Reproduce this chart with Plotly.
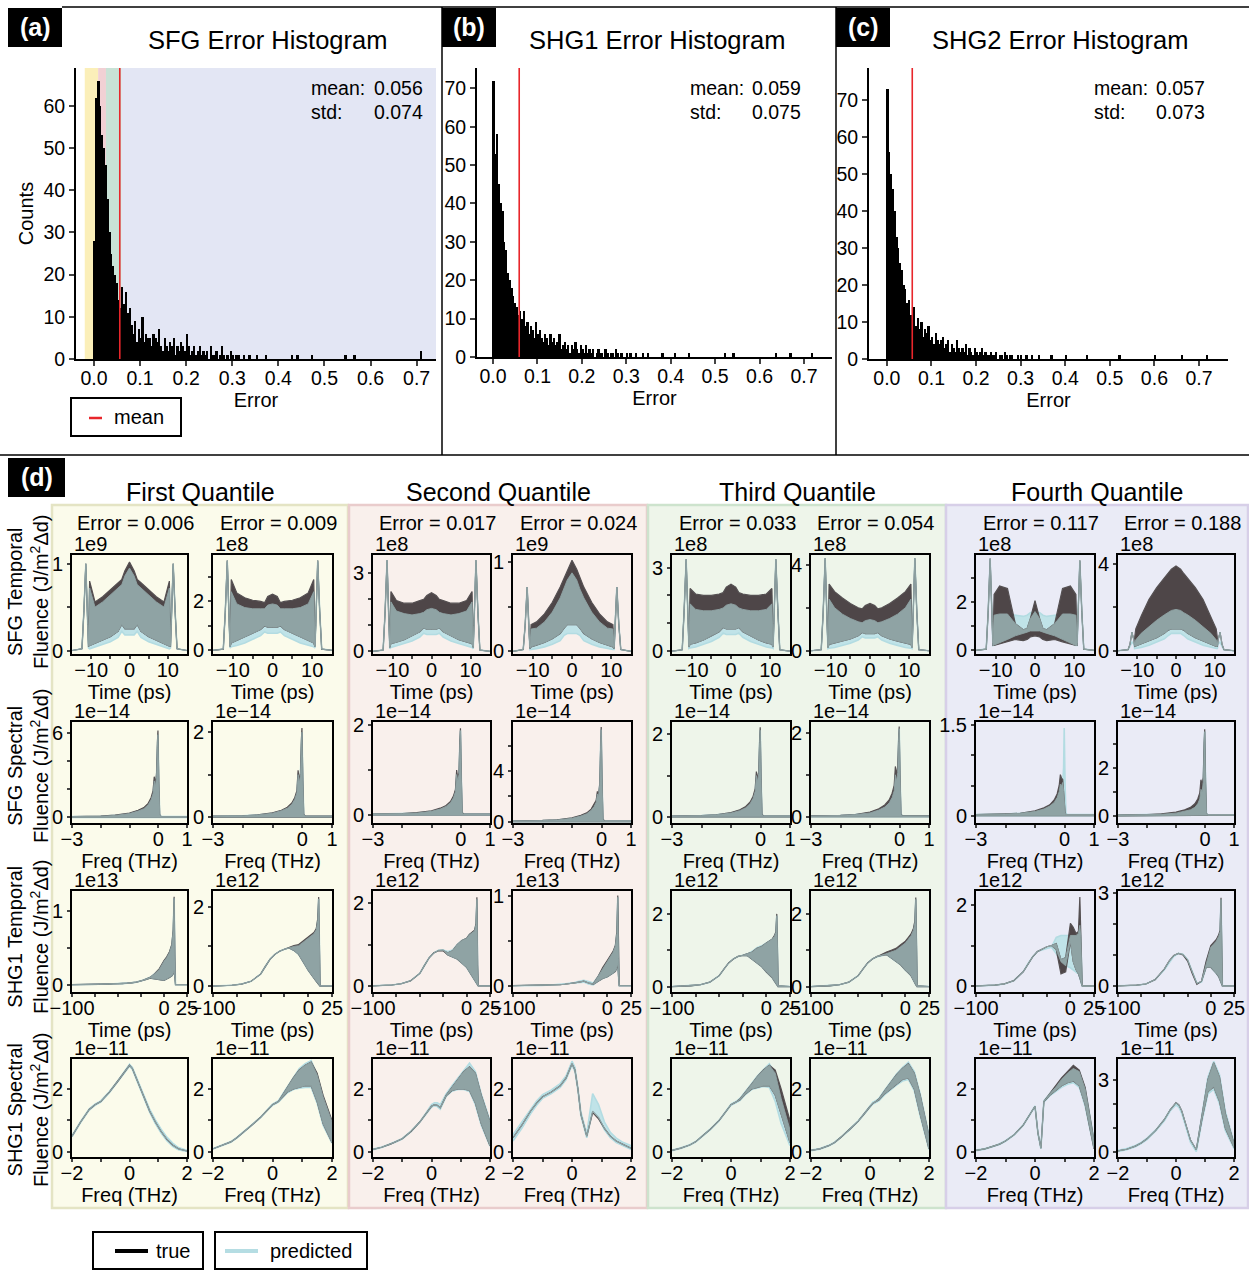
import plotly.graph_objects as go

W, H = 1249, 1271
FONT = "Liberation Sans, Arial, Helvetica, sans-serif"

# ---------------- histogram data (bin width 0.004, starting at 0) ----------------
BIN_WIDTH = 0.004
SFG_COUNTS = [
    28, 62, 66, 60, 53, 50, 46, 38, 30, 25, 22, 20, 18, 14, 12, 17, 13, 16, 11, 12, 8, 6, 9, 4, 7, 5, 10, 4, 6, 5,
    5, 3, 6, 5, 4, 7, 3, 2, 5, 3, 2, 4, 3, 5, 1, 3, 2, 4, 3, 2, 6, 3, 1, 2, 3, 1, 2, 3, 1, 2,
    1, 2, 0, 3, 1, 1, 2, 0, 1, 3, 1, 0, 1, 0, 2, 1, 0, 1, 1, 0, 0, 1, 0, 0, 1, 0, 0, 0, 1, 0,
    0, 0, 0, 1, 0, 0, 0, 0, 0, 0, 0, 0, 0, 0, 0, 0, 0, 1, 0, 0, 1, 0, 0, 0, 0, 0, 0, 0, 1, 0,
    0, 0, 0, 0, 0, 0, 0, 0, 0, 0, 0, 0, 0, 0, 0, 0, 1, 0, 0, 0, 0, 1, 0, 0, 0, 0, 0, 0, 0, 0,
    0, 0, 0, 0, 0, 0, 0, 0, 0, 0, 0, 0, 0, 0, 0, 0, 0, 0, 0, 0, 0, 0, 0, 0, 0, 0, 0, 2, 0, 0,
]
SHG1_COUNTS = [
    72, 53, 58, 45, 40, 38, 30, 28, 22, 20, 18, 16, 14, 13, 11, 12, 10, 12, 8, 9, 6, 8, 7, 5, 9, 6, 7, 5, 4, 6,
    5, 3, 6, 4, 5, 3, 4, 6, 2, 3, 4, 2, 3, 1, 3, 2, 4, 2, 1, 3, 2, 1, 3, 1, 2, 1, 2, 0, 1, 2,
    1, 1, 0, 2, 1, 0, 1, 1, 0, 2, 1, 0, 1, 0, 0, 1, 0, 1, 0, 0, 1, 0, 0, 0, 1, 0, 0, 1, 0, 0,
    0, 0, 0, 0, 0, 1, 0, 0, 0, 0, 0, 0, 1, 0, 0, 0, 0, 0, 0, 0, 1, 0, 0, 0, 0, 0, 0, 0, 0, 0,
    0, 0, 0, 0, 0, 0, 0, 0, 0, 0, 1, 0, 0, 0, 0, 1, 0, 0, 0, 0, 0, 0, 0, 0, 0, 0, 0, 0, 0, 0,
    0, 0, 0, 0, 0, 0, 0, 0, 0, 1, 0, 0, 0, 0, 0, 0, 0, 1, 0, 0, 0, 0, 0, 0, 0, 0, 0, 0, 0, 1,
]
SHG2_COUNTS = [
    73, 56, 50, 46, 40, 33, 30, 26, 24, 20, 19, 15, 16, 12, 10, 14, 9, 11, 8, 10, 6, 8, 7, 9, 5, 6, 4, 7, 5, 4,
    5, 6, 3, 4, 5, 2, 4, 3, 2, 5, 3, 2, 3, 2, 4, 1, 3, 2, 1, 3, 2, 1, 2, 3, 1, 2, 1, 1, 2, 1,
    1, 2, 0, 1, 1, 0, 2, 1, 0, 1, 1, 0, 0, 1, 0, 1, 0, 0, 1, 0, 0, 1, 0, 0, 0, 1, 0, 0, 0, 0,
    0, 0, 1, 0, 0, 0, 0, 0, 0, 0, 1, 0, 0, 0, 0, 0, 0, 0, 0, 0, 0, 0, 1, 0, 0, 0, 0, 0, 0, 0,
    0, 0, 0, 0, 0, 0, 0, 0, 0, 0, 1, 0, 0, 0, 0, 0, 0, 0, 0, 0, 0, 0, 0, 0, 0, 0, 0, 0, 0, 0,
    1, 0, 0, 0, 0, 0, 0, 0, 0, 0, 0, 0, 0, 0, 0, 1, 0, 0, 0, 0, 0, 0, 0, 0, 0, 0, 0, 0, 0, 1,
]
HIST_TITLES = ["SFG Error Histogram", "SHG1 Error Histogram", "SHG2 Error Histogram"]
HIST_MEANS = [0.056, 0.059, 0.057]
HIST_STDS = [0.074, 0.075, 0.073]
SFG_QUANTILE_EDGES = [-0.02, 0.009, 0.026, 0.060, 0.742]

# ---------------- panel (d) data ----------------
QUANTILE_NAMES = ["First Quantile", "Second Quantile", "Third Quantile", "Fourth Quantile"]
SAMPLE_ERRORS = ["0.006", "0.009", "0.017", "0.024", "0.033", "0.054", "0.117", "0.188"]
ROW_LABELS = ["SFG Temporal", "SFG Spectral", "SHG1 Temporal", "SHG1 Spectral"]
ROW_XTITLES = ["Time (ps)", "Freq (THz)", "Time (ps)", "Freq (THz)"]
ROW_XRANGES = [[-15, 15], [-3, 1], [-100, 25], [-2, 2]]
ROW_XTICKS = [[-10, -5, 0, 5, 10], [-3, -2, -1, 0, 1], [-100, -75, -50, -25, 0, 25], [-2, -1, 0, 1, 2]]
ROW_XTICKTEXT = [["\u221210", " ", "0", " ", "10"], ["\u22123", " ", " ", "0", "1"],
                 ["\u2212100", " ", " ", " ", "0", "25"], ["\u22122", " ", "0", " ", "2"]]
ROW_EXPONENTS = [
    ["1e9", "1e8", "1e8", "1e9", "1e8", "1e8", "1e8", "1e8"],
    ["1e\u221214"] * 8,
    ["1e13", "1e12", "1e12", "1e13", "1e12", "1e12", "1e12", "1e12"],
    ["1e\u221211"] * 8,
]
ROW_YRANGES = [
    [[-0.04, 1.1], [-0.15, 3.9], [-0.1, 3.7], [-0.03, 1.08], [-0.1, 3.45], [-0.15, 4.45], [-0.15, 3.93], [-0.15, 4.4]],
    [[-0.4, 6.8], [-0.14, 2.24], [-0.18, 2.07], [-0.1, 7.9], [-0.15, 2.3], [-0.15, 2.26], [-0.12, 1.55], [-0.3, 3.9]],
    [[-0.1, 1.28], [-0.15, 2.4], [-0.15, 2.3], [-0.07, 1.05], [-0.15, 2.63], [-0.15, 2.63], [-0.15, 2.35], [-0.2, 3.07]],
    [[-0.16, 2.95], [-0.16, 2.95], [-0.16, 2.95], [-0.16, 2.95], [-0.16, 2.95], [-0.16, 2.95], [-0.16, 2.95], [-0.2, 3.85]],
]
ROW_YTICKS = [
    [[0, 0.5, 1], [0, 1, 2, 3], [0, 1, 2, 3], [0, 0.5, 1], [0, 1, 2, 3], [0, 2, 4], [0, 1, 2, 3], [0, 2, 4]],
    [[0, 2, 4, 6], [0, 1, 2], [0, 1, 2], [0, 2, 4, 6], [0, 1, 2], [0, 1, 2], [0, 0.5, 1, 1.5], [0, 1, 2, 3]],
    [[0, 0.5, 1], [0, 1, 2], [0, 1, 2], [0, 0.5, 1], [0, 1, 2], [0, 1, 2], [0, 1, 2], [0, 1, 2, 3]],
    [[0, 1, 2], [0, 1, 2], [0, 1, 2], [0, 1, 2], [0, 1, 2], [0, 1, 2], [0, 1, 2], [0, 1, 2, 3]],
]
ROW_YTICKTEXT = [
    [["0", " ", "1"], ["0", " ", "2", " "], ["0", " ", " ", "3"], ["0", " ", "1"], ["0", " ", " ", "3"], ["0", " ", "4"], ["0", " ", "2", " "], ["0", " ", "4"]],
    [["0", " ", " ", "6"], ["0", " ", "2"], ["0", " ", "2"], ["0", " ", "4", " "], ["0", " ", "2"], ["0", " ", "2"], ["0", " ", " ", "1.5"], ["0", " ", "2", " "]],
    [["0", " ", "1"], ["0", " ", "2"], ["0", " ", "2"], ["0", " ", "1"], ["0", " ", "2"], ["0", " ", "2"], ["0", " ", "2"], ["0", " ", " ", "3"]],
    [["0", " ", "2"], ["0", " ", "2"], ["0", " ", "2"], ["0", " ", "2"], ["0", " ", "2"], ["0", " ", "2"], ["0", " ", "2"], ["0", " ", " ", "3"]],
]

# Row 1: SFG temporal fluence (envelopes of the oscillating traces)
R1_X = [-15, -12.4, -11.9, -11.4, -10.9, -10.7, -10.4, -9, -7, -5, -3, -2, -1.2, 0, 1.2, 2, 3, 5, 7, 9, 10.4, 10.7, 10.9, 11.4, 11.9, 12.4, 15]
R1_TRUE_HI = [
    [0, 0.02, 0.45, 1.0, 0.3, 0.08, 0.8, 0.56, 0.62, 0.7, 0.78, 0.82, 0.92, 1.02, 0.92, 0.82, 0.78, 0.7, 0.62, 0.56, 0.8, 0.08, 0.3, 1.0, 0.45, 0.02, 0],
    [0, 0.05, 1.6, 3.67, 1.0, 0.2, 2.9, 2.35, 2.15, 2.05, 2.0, 1.95, 2.2, 2.3, 2.2, 1.95, 2.0, 2.05, 2.15, 2.35, 2.9, 0.2, 1.0, 3.67, 1.6, 0.05, 0],
    [0, 0.05, 1.5, 3.5, 1.0, 0.2, 2.3, 1.95, 1.85, 1.85, 1.95, 2.0, 2.15, 2.25, 2.15, 2.0, 1.95, 1.85, 1.85, 1.95, 2.3, 0.2, 1.0, 3.5, 1.5, 0.05, 0],
    [0, 0.02, 0.3, 0.72, 0.2, 0.05, 0.3, 0.33, 0.42, 0.55, 0.72, 0.82, 0.92, 1.02, 0.92, 0.82, 0.72, 0.55, 0.42, 0.33, 0.3, 0.05, 0.2, 0.72, 0.3, 0.02, 0],
    [0, 0.05, 1.5, 3.3, 1.0, 0.2, 2.25, 2.05, 2.0, 2.0, 2.05, 2.1, 2.3, 2.4, 2.3, 2.1, 2.05, 2.0, 2.0, 2.05, 2.25, 0.2, 1.0, 3.3, 1.5, 0.05, 0],
    [0, 0.05, 1.8, 4.3, 1.2, 0.2, 3.1, 2.75, 2.45, 2.2, 2.0, 1.95, 2.1, 2.2, 2.1, 1.95, 2.0, 2.2, 2.45, 2.75, 3.1, 0.2, 1.2, 4.3, 1.8, 0.05, 0],
    [0, 0.05, 1.6, 3.78, 1.2, 0.3, 2.3, 2.65, 2.55, 1.1, 0.85, 0.9, 1.3, 2.05, 1.3, 0.9, 0.85, 1.1, 2.55, 2.65, 2.3, 0.3, 1.2, 3.7, 1.6, 0.05, 0],
    [0, 0.05, 0.3, 0.85, 0.5, 0.6, 1.0, 1.6, 2.35, 2.9, 3.35, 3.55, 3.75, 3.9, 3.75, 3.55, 3.35, 2.9, 2.35, 1.6, 1.0, 0.6, 0.5, 0.85, 0.3, 0.05, 0],
]
R1_TRUE_LO = [
    [0, 0.02, 0.45, 1.0, 0.3, 0.05, 0.05, 0.08, 0.12, 0.16, 0.22, 0.3, 0.25, 0.25, 0.25, 0.3, 0.22, 0.16, 0.12, 0.08, 0.05, 0.05, 0.3, 1.0, 0.45, 0.02, 0],
    [0, 0.05, 1.6, 3.67, 1.0, 0.15, 0.3, 0.4, 0.55, 0.7, 0.85, 1.0, 0.95, 0.95, 0.95, 1.0, 0.85, 0.7, 0.55, 0.4, 0.3, 0.15, 1.0, 3.67, 1.6, 0.05, 0],
    [0, 0.05, 1.5, 3.5, 1.0, 0.15, 0.3, 0.35, 0.45, 0.6, 0.75, 0.9, 0.85, 0.85, 0.85, 0.9, 0.75, 0.6, 0.45, 0.35, 0.3, 0.15, 1.0, 3.5, 1.5, 0.05, 0],
    [0, 0.02, 0.3, 0.72, 0.2, 0.03, 0.05, 0.07, 0.1, 0.14, 0.2, 0.26, 0.3, 0.3, 0.3, 0.26, 0.2, 0.14, 0.1, 0.07, 0.05, 0.03, 0.2, 0.72, 0.3, 0.02, 0],
    [0, 0.05, 1.5, 3.3, 1.0, 0.15, 0.25, 0.3, 0.4, 0.55, 0.7, 0.85, 0.8, 0.8, 0.8, 0.85, 0.7, 0.55, 0.4, 0.3, 0.25, 0.15, 1.0, 3.3, 1.5, 0.05, 0],
    [0, 0.05, 1.8, 4.3, 1.2, 0.15, 0.3, 0.35, 0.45, 0.55, 0.7, 0.85, 0.8, 0.8, 0.8, 0.85, 0.7, 0.55, 0.45, 0.35, 0.3, 0.15, 1.2, 4.3, 1.8, 0.05, 0],
    [0, 0.05, 1.6, 3.78, 1.2, 0.2, 0.2, 0.25, 0.35, 0.45, 0.4, 0.45, 0.55, 0.6, 0.55, 0.45, 0.4, 0.45, 0.35, 0.25, 0.2, 0.2, 1.2, 3.7, 1.6, 0.05, 0],
    [0, 0.05, 0.3, 0.85, 0.5, 0.2, 0.2, 0.3, 0.45, 0.6, 0.8, 0.95, 1.0, 1.0, 1.0, 0.95, 0.8, 0.6, 0.45, 0.3, 0.2, 0.2, 0.5, 0.85, 0.3, 0.05, 0],
]
R1_PRED_HI = [
    [0, 0.02, 0.45, 0.98, 0.3, 0.08, 0.72, 0.5, 0.56, 0.64, 0.72, 0.76, 0.86, 0.95, 0.86, 0.76, 0.72, 0.64, 0.56, 0.5, 0.72, 0.08, 0.3, 0.98, 0.45, 0.02, 0],
    [0, 0.05, 1.6, 3.6, 1.0, 0.2, 2.4, 1.9, 1.75, 1.7, 1.7, 1.7, 1.85, 1.9, 1.85, 1.7, 1.7, 1.7, 1.75, 1.9, 2.4, 0.2, 1.0, 3.6, 1.6, 0.05, 0],
    [0, 0.05, 1.5, 3.45, 1.0, 0.2, 1.9, 1.55, 1.45, 1.4, 1.45, 1.5, 1.6, 1.65, 1.6, 1.5, 1.45, 1.4, 1.45, 1.55, 1.9, 0.2, 1.0, 3.45, 1.5, 0.05, 0],
    [0, 0.02, 0.3, 0.72, 0.2, 0.05, 0.25, 0.26, 0.33, 0.44, 0.6, 0.7, 0.8, 0.88, 0.8, 0.7, 0.6, 0.44, 0.33, 0.26, 0.25, 0.05, 0.2, 0.72, 0.3, 0.02, 0],
    [0, 0.05, 1.5, 3.25, 1.0, 0.2, 1.7, 1.5, 1.45, 1.45, 1.5, 1.55, 1.65, 1.7, 1.65, 1.55, 1.5, 1.45, 1.45, 1.5, 1.7, 0.2, 1.0, 3.25, 1.5, 0.05, 0],
    [0, 0.05, 1.8, 4.25, 1.2, 0.2, 2.4, 2.0, 1.7, 1.5, 1.35, 1.3, 1.4, 1.45, 1.4, 1.3, 1.35, 1.5, 1.7, 2.0, 2.4, 0.2, 1.2, 4.25, 1.8, 0.05, 0],
    [0, 0.05, 1.6, 3.7, 1.2, 0.3, 1.45, 1.5, 1.5, 1.45, 1.4, 1.45, 1.55, 1.6, 1.55, 1.45, 1.4, 1.45, 1.5, 1.5, 1.45, 0.3, 1.2, 3.65, 1.6, 0.05, 0],
    [0, 0.05, 0.2, 0.4, 0.3, 0.3, 0.5, 0.8, 1.1, 1.4, 1.65, 1.75, 1.85, 1.9, 1.85, 1.75, 1.65, 1.4, 1.1, 0.8, 0.5, 0.3, 0.3, 0.4, 0.2, 0.05, 0],
]
R1_PRED_LO = [
    [0, 0.02, 0.45, 0.98, 0.3, 0.03, 0.02, 0.04, 0.07, 0.1, 0.15, 0.22, 0.18, 0.18, 0.18, 0.22, 0.15, 0.1, 0.07, 0.04, 0.02, 0.03, 0.3, 0.98, 0.45, 0.02, 0],
    [0, 0.05, 1.6, 3.6, 1.0, 0.1, 0.15, 0.2, 0.3, 0.45, 0.6, 0.75, 0.7, 0.7, 0.7, 0.75, 0.6, 0.45, 0.3, 0.2, 0.15, 0.1, 1.0, 3.6, 1.6, 0.05, 0],
    [0, 0.05, 1.5, 3.45, 1.0, 0.1, 0.15, 0.2, 0.3, 0.4, 0.55, 0.7, 0.65, 0.65, 0.65, 0.7, 0.55, 0.4, 0.3, 0.2, 0.15, 0.1, 1.0, 3.45, 1.5, 0.05, 0],
    [0, 0.02, 0.3, 0.72, 0.2, 0.02, 0.02, 0.03, 0.05, 0.08, 0.12, 0.18, 0.2, 0.2, 0.2, 0.18, 0.12, 0.08, 0.05, 0.03, 0.02, 0.02, 0.2, 0.72, 0.3, 0.02, 0],
    [0, 0.05, 1.5, 3.25, 1.0, 0.1, 0.12, 0.15, 0.25, 0.35, 0.5, 0.65, 0.6, 0.6, 0.6, 0.65, 0.5, 0.35, 0.25, 0.15, 0.12, 0.1, 1.0, 3.25, 1.5, 0.05, 0],
    [0, 0.05, 1.8, 4.25, 1.2, 0.1, 0.12, 0.15, 0.25, 0.35, 0.5, 0.65, 0.6, 0.6, 0.6, 0.65, 0.5, 0.35, 0.25, 0.15, 0.12, 0.1, 1.2, 4.25, 1.8, 0.05, 0],
    [0, 0.05, 1.6, 3.7, 1.2, 0.2, 0.2, 0.3, 0.45, 0.6, 0.7, 0.75, 0.8, 0.8, 0.8, 0.75, 0.7, 0.6, 0.45, 0.3, 0.2, 0.2, 1.2, 3.65, 1.6, 0.05, 0],
    [0, 0.05, 0.2, 0.4, 0.3, 0.1, 0.1, 0.15, 0.25, 0.4, 0.55, 0.7, 0.8, 0.8, 0.8, 0.7, 0.55, 0.4, 0.25, 0.15, 0.1, 0.1, 0.3, 0.4, 0.2, 0.05, 0],
]

# Row 2: SFG spectral fluence (filled down to zero)
R2_X = [-3, -2.5, -2, -1.5, -1.0, -0.7, -0.5, -0.35, -0.25, -0.18, -0.14, -0.1, -0.06, -0.03, -0.01, 0.02, 0.05, 0.1, 1]
R2_TRUE = [
    [0.06, 0.06, 0.09, 0.16, 0.3, 0.5, 0.7, 1.0, 1.4, 1.9, 2.9, 2.4, 3.1, 5.3, 6.2, 2.5, 0.2, 0.06, 0.06],
    [0.02, 0.02, 0.03, 0.05, 0.1, 0.16, 0.23, 0.33, 0.46, 0.62, 1.1, 0.85, 1.05, 1.8, 2.1, 0.85, 0.06, 0.02, 0.02],
    [0.02, 0.02, 0.03, 0.05, 0.09, 0.15, 0.21, 0.3, 0.42, 0.57, 1.0, 0.8, 0.95, 1.65, 1.93, 0.8, 0.05, 0.02, 0.02],
    [0.06, 0.06, 0.1, 0.15, 0.3, 0.5, 0.7, 1.0, 1.35, 1.7, 2.4, 2.1, 3.0, 6.2, 7.5, 3.0, 0.2, 0.06, 0.06],
    [0.02, 0.02, 0.03, 0.05, 0.1, 0.17, 0.25, 0.36, 0.5, 0.68, 1.1, 0.9, 1.1, 1.85, 2.17, 0.9, 0.06, 0.02, 0.02],
    [0.02, 0.02, 0.03, 0.05, 0.11, 0.19, 0.28, 0.4, 0.56, 0.75, 1.2, 1.0, 1.2, 1.85, 2.15, 0.9, 0.06, 0.02, 0.02],
    [0.02, 0.02, 0.03, 0.04, 0.08, 0.13, 0.18, 0.26, 0.36, 0.5, 0.68, 0.62, 0.6, 0.4, 0.2, 0.05, 0.02, 0.02, 0.02],
    [0.03, 0.03, 0.05, 0.08, 0.15, 0.25, 0.35, 0.5, 0.7, 0.95, 1.5, 1.3, 1.6, 3.0, 3.6, 1.4, 0.1, 0.03, 0.03],
]
R2_PRED = [
    [0.06, 0.06, 0.08, 0.14, 0.27, 0.45, 0.62, 0.9, 1.25, 1.7, 2.6, 2.2, 2.9, 5.0, 5.9, 2.5, 0.2, 0.06, 0.06],
    [0.02, 0.02, 0.03, 0.05, 0.09, 0.15, 0.21, 0.3, 0.42, 0.57, 1.0, 0.8, 1.0, 1.7, 2.0, 0.85, 0.06, 0.02, 0.02],
    [0.02, 0.02, 0.03, 0.04, 0.08, 0.13, 0.19, 0.27, 0.38, 0.52, 0.9, 0.75, 0.9, 1.6, 1.88, 0.8, 0.05, 0.02, 0.02],
    [0.06, 0.06, 0.09, 0.14, 0.27, 0.45, 0.63, 0.9, 1.2, 1.55, 2.2, 2.0, 2.9, 6.0, 7.3, 3.0, 0.2, 0.06, 0.06],
    [0.02, 0.02, 0.03, 0.05, 0.09, 0.15, 0.22, 0.32, 0.45, 0.62, 1.0, 0.85, 1.05, 1.8, 2.1, 0.9, 0.06, 0.02, 0.02],
    [0.02, 0.02, 0.03, 0.05, 0.09, 0.16, 0.23, 0.33, 0.46, 0.62, 1.0, 0.85, 1.05, 1.8, 2.1, 0.9, 0.06, 0.02, 0.02],
    [0.02, 0.02, 0.03, 0.04, 0.07, 0.11, 0.16, 0.22, 0.3, 0.4, 0.52, 0.5, 0.55, 0.8, 1.45, 0.5, 0.04, 0.02, 0.02],
    [0.03, 0.03, 0.04, 0.06, 0.11, 0.18, 0.25, 0.35, 0.5, 0.7, 1.1, 1.0, 1.4, 2.9, 3.5, 1.4, 0.1, 0.03, 0.03],
]

# Row 3: SHG1 temporal fluence
R3_X = [-100, -80, -70, -60, -50, -45, -40, -35, -30, -25, -20, -15, -10, -5, 0, 3, 6, 8.5, 10, 11, 11.8, 12.5, 25]
R3_TRUE_HI = [
    [0, 0.003, 0.005, 0.008, 0.012, 0.015, 0.02, 0.025, 0.035, 0.05, 0.07, 0.1, 0.15, 0.22, 0.33, 0.38, 0.45, 0.55, 0.75, 1.2, 0.4, 0, 0],
    [0, 0.02, 0.05, 0.12, 0.3, 0.5, 0.68, 0.8, 0.88, 0.93, 0.98, 1.02, 1.05, 1.15, 1.25, 1.3, 1.35, 1.45, 1.7, 2.25, 0.5, 0, 0],
    [0, 0.02, 0.05, 0.12, 0.3, 0.5, 0.68, 0.8, 0.85, 0.85, 0.8, 0.85, 1.0, 1.1, 1.15, 1.25, 1.3, 1.35, 1.5, 2.15, 0.5, 0, 0],
    [0, 0.002, 0.004, 0.008, 0.012, 0.016, 0.02, 0.03, 0.04, 0.05, 0.03, 0.02, 0.1, 0.2, 0.28, 0.33, 0.38, 0.45, 0.6, 1.0, 0.3, 0, 0],
    [0, 0.02, 0.05, 0.12, 0.3, 0.48, 0.65, 0.76, 0.83, 0.86, 0.9, 0.95, 1.05, 1.1, 1.2, 1.25, 1.3, 1.4, 1.5, 2.0, 0.5, 0, 0],
    [0, 0.02, 0.05, 0.12, 0.3, 0.48, 0.65, 0.76, 0.83, 0.88, 0.95, 1.0, 1.05, 1.15, 1.25, 1.35, 1.45, 1.6, 1.8, 2.45, 0.5, 0, 0],
    [0, 0.02, 0.05, 0.13, 0.35, 0.55, 0.72, 0.85, 0.92, 0.97, 1.0, 1.05, 0.65, 0.7, 1.55, 1.45, 1.3, 1.35, 2.2, 1.4, 0.3, 0, 0],
    [0, 0.02, 0.06, 0.2, 0.55, 0.8, 0.98, 1.05, 1.0, 0.8, 0.4, 0.05, 0.15, 0.8, 1.3, 1.4, 1.5, 1.65, 1.8, 2.85, 0.5, 0, 0],
]
R3_TRUE_LO = [
    [0, 0.003, 0.005, 0.008, 0.012, 0.015, 0.02, 0.025, 0.035, 0.05, 0.07, 0.09, 0.08, 0.07, 0.06, 0.08, 0.1, 0.12, 0.15, 0.2, 0.1, 0, 0],
    [0, 0.02, 0.05, 0.12, 0.3, 0.5, 0.68, 0.8, 0.88, 0.93, 0.96, 0.9, 0.8, 0.6, 0.4, 0.3, 0.2, 0.12, 0.08, 0.05, 0.02, 0, 0],
    [0, 0.02, 0.05, 0.12, 0.3, 0.5, 0.68, 0.8, 0.85, 0.85, 0.75, 0.7, 0.65, 0.55, 0.45, 0.35, 0.25, 0.15, 0.08, 0.05, 0.02, 0, 0],
    [0, 0.002, 0.004, 0.008, 0.012, 0.016, 0.02, 0.03, 0.04, 0.05, 0.03, 0.015, 0.05, 0.08, 0.1, 0.12, 0.14, 0.16, 0.2, 0.25, 0.1, 0, 0],
    [0, 0.02, 0.05, 0.12, 0.3, 0.48, 0.65, 0.76, 0.83, 0.86, 0.85, 0.75, 0.65, 0.55, 0.4, 0.32, 0.25, 0.15, 0.08, 0.05, 0.02, 0, 0],
    [0, 0.02, 0.05, 0.12, 0.3, 0.48, 0.65, 0.76, 0.83, 0.86, 0.88, 0.8, 0.7, 0.6, 0.45, 0.38, 0.3, 0.2, 0.1, 0.05, 0.02, 0, 0],
    [0, 0.02, 0.05, 0.13, 0.35, 0.55, 0.72, 0.85, 0.92, 0.97, 1.0, 0.9, 0.3, 0.35, 1.1, 0.6, 0.4, 0.3, 0.2, 0.15, 0.05, 0, 0],
    [0, 0.02, 0.06, 0.2, 0.55, 0.8, 0.98, 1.05, 1.0, 0.8, 0.4, 0.05, 0.15, 0.6, 0.6, 0.5, 0.4, 0.3, 0.2, 0.1, 0.05, 0, 0],
]
R3_PRED_HI = [
    [0, 0.003, 0.005, 0.008, 0.012, 0.015, 0.02, 0.025, 0.035, 0.05, 0.07, 0.1, 0.15, 0.21, 0.32, 0.37, 0.44, 0.54, 0.74, 1.18, 0.4, 0, 0],
    [0, 0.02, 0.05, 0.12, 0.3, 0.5, 0.68, 0.8, 0.88, 0.93, 0.97, 1.0, 1.02, 1.12, 1.22, 1.27, 1.32, 1.42, 1.65, 2.2, 0.5, 0, 0],
    [0, 0.02, 0.05, 0.12, 0.3, 0.5, 0.68, 0.8, 0.86, 0.87, 0.83, 0.87, 1.0, 1.1, 1.15, 1.24, 1.28, 1.33, 1.48, 2.1, 0.5, 0, 0],
    [0, 0.002, 0.004, 0.008, 0.014, 0.02, 0.026, 0.035, 0.05, 0.06, 0.045, 0.03, 0.1, 0.19, 0.27, 0.32, 0.37, 0.44, 0.58, 0.98, 0.3, 0, 0],
    [0, 0.02, 0.05, 0.12, 0.3, 0.48, 0.65, 0.76, 0.83, 0.86, 0.9, 0.97, 1.07, 1.12, 1.2, 1.25, 1.3, 1.38, 1.48, 1.95, 0.5, 0, 0],
    [0, 0.02, 0.05, 0.12, 0.3, 0.48, 0.65, 0.76, 0.82, 0.85, 0.9, 0.95, 1.0, 1.1, 1.2, 1.3, 1.4, 1.55, 1.75, 2.4, 0.5, 0, 0],
    [0, 0.02, 0.05, 0.13, 0.35, 0.55, 0.72, 0.85, 0.9, 0.93, 0.96, 1.2, 1.25, 1.25, 1.25, 1.25, 1.25, 1.3, 1.5, 1.2, 0.3, 0, 0],
    [0, 0.02, 0.06, 0.2, 0.52, 0.75, 0.95, 1.05, 1.02, 0.85, 0.45, 0.08, 0.12, 0.75, 1.25, 1.35, 1.45, 1.6, 1.75, 2.8, 0.5, 0, 0],
]
R3_PRED_LO = [
    [0, 0.003, 0.005, 0.008, 0.012, 0.015, 0.02, 0.025, 0.035, 0.05, 0.07, 0.09, 0.08, 0.07, 0.06, 0.08, 0.1, 0.12, 0.15, 0.2, 0.1, 0, 0],
    [0, 0.02, 0.05, 0.12, 0.3, 0.5, 0.68, 0.8, 0.88, 0.93, 0.96, 0.9, 0.8, 0.6, 0.4, 0.3, 0.2, 0.12, 0.08, 0.05, 0.02, 0, 0],
    [0, 0.02, 0.05, 0.12, 0.3, 0.5, 0.68, 0.8, 0.86, 0.87, 0.75, 0.7, 0.65, 0.55, 0.45, 0.35, 0.25, 0.15, 0.08, 0.05, 0.02, 0, 0],
    [0, 0.002, 0.004, 0.008, 0.012, 0.016, 0.02, 0.028, 0.035, 0.04, 0.02, 0.01, 0.05, 0.08, 0.1, 0.12, 0.14, 0.16, 0.2, 0.25, 0.1, 0, 0],
    [0, 0.02, 0.05, 0.12, 0.3, 0.48, 0.65, 0.76, 0.83, 0.86, 0.85, 0.75, 0.65, 0.55, 0.4, 0.32, 0.25, 0.15, 0.08, 0.05, 0.02, 0, 0],
    [0, 0.02, 0.05, 0.12, 0.3, 0.48, 0.65, 0.76, 0.82, 0.85, 0.88, 0.8, 0.7, 0.6, 0.45, 0.38, 0.3, 0.2, 0.1, 0.05, 0.02, 0, 0],
    [0, 0.02, 0.05, 0.13, 0.35, 0.55, 0.72, 0.85, 0.9, 0.93, 0.96, 0.8, 0.6, 0.5, 0.45, 0.4, 0.35, 0.3, 0.2, 0.15, 0.05, 0, 0],
    [0, 0.02, 0.06, 0.2, 0.52, 0.75, 0.95, 1.05, 1.02, 0.85, 0.45, 0.08, 0.12, 0.6, 0.6, 0.5, 0.4, 0.3, 0.2, 0.1, 0.05, 0, 0],
]

# Row 4: SHG1 spectral fluence
R4_X = [-2, -1.7, -1.4, -1.2, -1.0, -0.7, -0.4, -0.2, 0, 0.1, 0.2, 0.3, 0.5, 0.7, 0.9, 1.1, 1.3, 1.5, 1.7, 2]
R4_TRUE_HI = [
    [0.5, 0.95, 1.35, 1.5, 1.6, 1.9, 2.25, 2.5, 2.75, 2.65, 2.45, 2.2, 1.75, 1.3, 0.95, 0.65, 0.4, 0.22, 0.1, 0.03],
    [0.1, 0.2, 0.32, 0.45, 0.6, 0.85, 1.1, 1.3, 1.5, 1.55, 1.6, 1.75, 2.05, 2.35, 2.6, 2.75, 2.85, 2.5, 1.8, 1.0],
    [0.08, 0.15, 0.25, 0.33, 0.42, 0.65, 0.95, 1.2, 1.45, 1.5, 1.48, 1.4, 1.8, 2.05, 2.3, 2.55, 2.7, 2.5, 1.8, 0.95],
    [0.45, 0.85, 1.3, 1.55, 1.75, 1.9, 2.1, 2.35, 2.8, 2.6, 2.0, 1.2, 0.5, 1.25, 1.05, 0.75, 0.5, 0.35, 0.25, 0.12],
    [0.05, 0.12, 0.22, 0.32, 0.48, 0.72, 1.0, 1.25, 1.5, 1.55, 1.6, 1.68, 1.9, 2.15, 2.4, 2.6, 2.75, 2.6, 2.0, 1.0],
    [0.05, 0.1, 0.2, 0.3, 0.45, 0.7, 0.98, 1.2, 1.45, 1.55, 1.6, 1.68, 1.95, 2.2, 2.45, 2.65, 2.8, 2.5, 1.8, 0.5],
    [0.05, 0.1, 0.18, 0.25, 0.35, 0.55, 0.85, 1.15, 1.45, 0.6, 0.12, 1.6, 1.85, 2.1, 2.35, 2.55, 2.75, 2.6, 2.05, 0.35],
    [0.05, 0.12, 0.25, 0.38, 0.55, 0.9, 1.35, 1.75, 2.05, 1.95, 1.7, 1.3, 0.5, 0.1, 1.5, 3.0, 3.7, 3.1, 1.6, 0.35],
]
R4_TRUE_LO = [
    [0.5, 0.95, 1.35, 1.5, 1.6, 1.9, 2.25, 2.5, 2.75, 2.65, 2.45, 2.2, 1.75, 1.3, 0.95, 0.65, 0.4, 0.22, 0.1, 0.03],
    [0.1, 0.2, 0.32, 0.45, 0.6, 0.85, 1.1, 1.3, 1.5, 1.55, 1.6, 1.72, 1.9, 2.0, 2.05, 2.1, 2.1, 1.6, 0.9, 0.3],
    [0.08, 0.15, 0.25, 0.33, 0.42, 0.65, 0.95, 1.2, 1.45, 1.5, 1.48, 1.4, 1.78, 1.95, 2.0, 2.0, 1.95, 1.55, 0.9, 0.2],
    [0.45, 0.85, 1.3, 1.55, 1.75, 1.9, 2.1, 2.35, 2.8, 2.6, 2.0, 1.2, 0.5, 1.25, 1.05, 0.75, 0.5, 0.35, 0.25, 0.12],
    [0.05, 0.12, 0.22, 0.32, 0.48, 0.72, 1.0, 1.25, 1.5, 1.55, 1.6, 1.65, 1.85, 2.0, 2.05, 2.1, 2.1, 1.8, 1.2, 0.3],
    [0.05, 0.1, 0.2, 0.3, 0.45, 0.7, 0.98, 1.2, 1.45, 1.55, 1.6, 1.65, 1.85, 2.0, 2.15, 2.3, 2.35, 2.0, 1.2, 0.1],
    [0.05, 0.1, 0.18, 0.25, 0.35, 0.55, 0.85, 1.15, 1.45, 0.6, 0.12, 1.6, 1.8, 1.95, 2.1, 2.2, 2.25, 2.1, 1.5, 0.1],
    [0.05, 0.12, 0.25, 0.38, 0.55, 0.9, 1.35, 1.75, 2.05, 1.95, 1.7, 1.3, 0.5, 0.1, 1.4, 2.5, 2.7, 2.1, 1.0, 0.2],
]
R4_PRED_HI = [
    [0.52, 0.97, 1.37, 1.52, 1.62, 1.92, 2.27, 2.52, 2.78, 2.68, 2.48, 2.24, 1.8, 1.36, 1.02, 0.72, 0.47, 0.28, 0.14, 0.05],
    [0.11, 0.21, 0.33, 0.46, 0.61, 0.86, 1.11, 1.31, 1.52, 1.57, 1.63, 1.78, 2.08, 2.38, 2.65, 2.8, 2.9, 2.45, 1.75, 0.95],
    [0.09, 0.16, 0.26, 0.34, 0.43, 0.66, 0.96, 1.22, 1.5, 1.56, 1.56, 1.5, 1.84, 2.1, 2.35, 2.6, 2.82, 2.55, 1.85, 1.0],
    [0.55, 0.95, 1.38, 1.62, 1.82, 1.97, 2.17, 2.42, 2.88, 2.68, 2.05, 1.28, 0.58, 1.85, 1.5, 0.95, 0.62, 0.44, 0.32, 0.2],
    [0.06, 0.13, 0.23, 0.33, 0.49, 0.73, 1.01, 1.26, 1.52, 1.57, 1.62, 1.7, 1.92, 2.17, 2.42, 2.62, 2.8, 2.5, 1.7, 0.7],
    [0.06, 0.11, 0.21, 0.31, 0.46, 0.71, 0.99, 1.22, 1.48, 1.58, 1.63, 1.7, 1.97, 2.22, 2.47, 2.68, 2.85, 2.55, 1.85, 0.55],
    [0.06, 0.11, 0.19, 0.26, 0.36, 0.56, 0.86, 1.16, 1.46, 0.62, 0.15, 1.62, 1.85, 2.05, 2.3, 2.5, 2.65, 2.55, 2.0, 0.4],
    [0.08, 0.15, 0.28, 0.4, 0.58, 0.92, 1.35, 1.75, 2.0, 1.9, 1.65, 1.25, 0.45, 0.05, 1.6, 3.1, 3.75, 3.2, 1.7, 0.4],
]
R4_PRED_LO = [
    [0.48, 0.93, 1.33, 1.48, 1.58, 1.88, 2.23, 2.48, 2.72, 2.62, 2.42, 2.17, 1.72, 1.26, 0.9, 0.6, 0.36, 0.18, 0.07, 0.02],
    [0.09, 0.19, 0.31, 0.44, 0.59, 0.84, 1.09, 1.29, 1.48, 1.53, 1.58, 1.7, 1.88, 1.98, 2.02, 2.05, 2.05, 1.55, 0.85, 0.28],
    [0.07, 0.14, 0.24, 0.32, 0.41, 0.64, 0.94, 1.18, 1.42, 1.47, 1.44, 1.36, 1.76, 1.93, 1.98, 1.98, 1.92, 1.5, 0.85, 0.18],
    [0.35, 0.75, 1.22, 1.48, 1.7, 1.85, 2.05, 2.3, 2.75, 2.55, 1.95, 1.15, 0.45, 1.3, 1.1, 0.7, 0.45, 0.3, 0.2, 0.08],
    [0.04, 0.11, 0.21, 0.31, 0.47, 0.71, 0.99, 1.24, 1.48, 1.53, 1.58, 1.63, 1.83, 1.98, 2.03, 2.08, 2.05, 1.6, 0.9, 0.2],
    [0.04, 0.09, 0.19, 0.29, 0.44, 0.69, 0.97, 1.18, 1.42, 1.52, 1.57, 1.62, 1.82, 1.97, 2.12, 2.25, 2.3, 1.95, 1.15, 0.08],
    [0.04, 0.09, 0.17, 0.24, 0.34, 0.54, 0.84, 1.14, 1.44, 0.58, 0.1, 1.58, 1.78, 1.92, 2.05, 2.15, 2.2, 2.05, 1.45, 0.12],
    [0.03, 0.1, 0.22, 0.35, 0.52, 0.88, 1.3, 1.7, 1.95, 1.85, 1.6, 1.2, 0.4, 0.02, 1.3, 2.4, 2.6, 2.0, 0.9, 0.15],
]

# ---------------- geometry (pixels) ----------------
HIST_BOXES = [(76, 436, 68, 359), (477, 832, 68, 357), (869, 1228, 68, 359)]
HIST_XRANGES = [[-0.039, 0.742], [-0.036, 0.763], [-0.04, 0.765]]
HIST_YMAX = [69, 75.3, 78.6]
HIST_YTOP_TICK = [60, 70, 70]
SUB_COLS = [(72, 187), (213, 332), (373, 490), (513, 631), (672, 790), (811, 929), (976, 1094), (1118, 1234)]
SUB_ROWS = [(555, 654), (722, 823), (891, 992), (1059, 1157)]
Q_BOXES = [(52, 348), (349, 647), (648, 946), (946, 1248)]
Q_FILLS = ["#fbfbeb", "#f9f0ec", "#eef5ea", "#eaebf6"]
Q_LINES = ["#e4e4c4", "#e9cccc", "#cde3cd", "#d7cfe8"]
HIST_SHADES = ["#fbefb9", "#f1d0d4", "#c9e2d6", "#e3e6f4"]

PRED_FILL, PRED_LINE = "#c0e3e8", "#b3dce2"
TRUE_FILL, TRUE_LINE = "#4e4648", "#555052"
OVER_FILL = "#8fa3a4"


def px(x):
    return x / W


def py(y):
    return 1 - y / H


fig = go.Figure()
axes_layout = {}
annotations = []
shapes = []
counter = [0]


def new_axes(x0, x1, y0, y1, xcfg, ycfg):
    counter[0] += 1
    n = counter[0]
    s = "" if n == 1 else str(n)
    axes_layout["xaxis" + s] = dict(domain=[px(x0), px(x1)], anchor="y" + s, automargin=False, tickangle=0, **xcfg)
    axes_layout["yaxis" + s] = dict(domain=[py(y1), py(y0)], anchor="x" + s, automargin=False, tickangle=0, **ycfg)
    return "x" + s, "y" + s


def text(x, y, t, size=20, xanchor="center", yanchor="middle", angle=0, color="black"):
    annotations.append(dict(x=px(x), y=py(y), xref="paper", yref="paper", text=t, showarrow=False,
                            xanchor=xanchor, yanchor=yanchor, textangle=angle,
                            font=dict(size=size, color=color, family=FONT)))


def line(x0, y0, x1, y1, color="black", width=1.5, layer="above"):
    shapes.append(dict(type="line", xref="paper", yref="paper", x0=px(x0), y0=py(y0), x1=px(x1), y1=py(y1),
                       line=dict(color=color, width=width), layer=layer))


def rect(x0, y0, x1, y1, fill=None, color="black", width=2, layer="above"):
    d = dict(type="rect", xref="paper", yref="paper", x0=px(x0), y0=py(y0), x1=px(x1), y1=py(y1),
             line=dict(color=color, width=width), layer=layer)
    if fill:
        d["fillcolor"] = fill
    shapes.append(d)


# ---------------- panel frame ----------------
for (a, b), f, c in zip(Q_BOXES, Q_FILLS, Q_LINES):
    rect(a, 505, b, 1208, fill=f, color=c, width=2.5, layer="below")
line(62, 7, 1249, 7)
line(442, 7, 442, 455)
line(836, 7, 836, 455)
line(0, 455, 1249, 455)
for (x0, y0, x1, y1), lab in zip([(8, 8, 62, 47), (442, 8, 496, 47), (836, 8, 890, 47), (8, 458, 65, 497)],
                                 ["(a)", "(b)", "(c)", "(d)"]):
    rect(x0, y0, x1, y1, fill="black", width=0)
    text((x0 + x1) / 2, (y0 + y1) / 2 - 1, "<b>" + lab + "</b>", size=25, color="white")

# ---------------- histograms ----------------
counts_all = [SFG_COUNTS, SHG1_COUNTS, SHG2_COUNTS]
for k in range(3):
    x0, x1, y0, y1 = HIST_BOXES[k]
    xcfg = dict(range=HIST_XRANGES[k], showline=True, linecolor="black", linewidth=2, ticks="outside",
                ticklen=5, tickwidth=1.5, tickvals=[i / 10 for i in range(8)], ticklabelstandoff=-4,
                ticktext=["%.1f" % (i / 10) for i in range(8)], tickfont=dict(size=19.5, family=FONT),
                title=dict(text="Error", font=dict(size=20, family=FONT), standoff=0),
                showgrid=False, zeroline=False)
    ycfg = dict(range=[0, HIST_YMAX[k]], showline=True, linecolor="black", linewidth=2, ticks="outside",
                ticklen=5, tickwidth=1.5, tickvals=list(range(0, HIST_YTOP_TICK[k] + 1, 10)),
                tickfont=dict(size=19.5, family=FONT), showgrid=False, zeroline=False)
    if k == 0:
        ycfg["title"] = dict(text="Counts", font=dict(size=20, family=FONT), standoff=4)
    xa, ya = new_axes(x0, x1, y0, y1, xcfg, ycfg)
    if k == 0:
        for q in range(4):
            shapes.append(dict(type="rect", xref=xa, yref=ya + " domain", x0=SFG_QUANTILE_EDGES[q],
                               x1=SFG_QUANTILE_EDGES[q + 1], y0=0, y1=1, fillcolor=HIST_SHADES[q],
                               line=dict(width=0), layer="below"))
    counts = counts_all[k]
    centers = [BIN_WIDTH * (i + 0.5) for i in range(len(counts))]
    fig.add_trace(go.Bar(x=centers, y=counts, width=BIN_WIDTH, marker=dict(color="black", line=dict(width=0)),
                         xaxis=xa, yaxis=ya, hoverinfo="skip"))
    shapes.append(dict(type="line", xref=xa, yref=ya + " domain", x0=HIST_MEANS[k], x1=HIST_MEANS[k],
                       y0=0, y1=1, line=dict(color="#e8262b", width=1.6), layer="above"))
    title_x = [267, 657, 1060][k]
    text(title_x, 40, HIST_TITLES[k], size=25.5)
    lx = [309, 688, 1092][k]
    rx = [425, 803, 1207][k]
    text(lx, 88, "mean:", size=19.5, xanchor="left")
    text(rx, 88, "%.3f" % HIST_MEANS[k], size=19.5, xanchor="right")
    text(lx, 112, "std:", size=19.5, xanchor="left")
    text(rx, 112, "%.3f" % HIST_STDS[k], size=19.5, xanchor="right")

# mean legend
rect(71, 398, 181, 436, width=2)
line(89, 418, 102, 418, color="#e8262b", width=2.5)
text(112, 417, "mean", xanchor="left")

# ---------------- panel (d) ----------------
rows = [
    (R1_X, R1_TRUE_LO, R1_TRUE_HI, R1_PRED_LO, R1_PRED_HI),
    (R2_X, None, R2_TRUE, None, R2_PRED),
    (R3_X, R3_TRUE_LO, R3_TRUE_HI, R3_PRED_LO, R3_PRED_HI),
    (R4_X, R4_TRUE_LO, R4_TRUE_HI, R4_PRED_LO, R4_PRED_HI),
]


def band(xa, ya, x, lo, hi, fill, lcolor, lw):
    fig.add_trace(go.Scatter(x=list(x) + list(x)[::-1], y=list(hi) + list(lo)[::-1], mode="lines",
                             fill="toself", fillcolor=fill, line=dict(color=lcolor, width=lw),
                             xaxis=xa, yaxis=ya, hoverinfo="skip"))


for r in range(4):
    xs, tlo_all, thi_all, plo_all, phi_all = rows[r]
    ry0, ry1 = SUB_ROWS[r]
    for c in range(8):
        cx0, cx1 = SUB_COLS[c]
        xcfg = dict(range=ROW_XRANGES[r], showline=True, mirror=True, linecolor="black", linewidth=2,
                    ticks="outside", ticklen=3, tickwidth=1.5, tickvals=ROW_XTICKS[r], ticktext=ROW_XTICKTEXT[r],
                    ticklabelstandoff=-6,
                    tickfont=dict(size=20, family=FONT), showgrid=False, zeroline=False,
                    title=dict(text=ROW_XTITLES[r], font=dict(size=20, family=FONT), standoff=0))
        ycfg = dict(range=ROW_YRANGES[r][c], showline=True, mirror=True, linecolor="black", linewidth=2,
                    ticks="outside", ticklen=3, tickwidth=1.5, tickvals=ROW_YTICKS[r][c],
                    ticktext=ROW_YTICKTEXT[r][c], tickfont=dict(size=20, family=FONT),
                    showgrid=False, zeroline=False)
        xa, ya = new_axes(cx0, cx1, ry0, ry1, xcfg, ycfg)
        thi = thi_all[c]
        phi = phi_all[c]
        tlo = tlo_all[c] if tlo_all is not None else [0] * len(xs)
        plo = plo_all[c] if plo_all is not None else [0] * len(xs)
        olo = [max(a, b) for a, b in zip(tlo, plo)]
        ohi = [max(l, min(a, b)) for l, a, b in zip(olo, thi, phi)]
        band(xa, ya, xs, plo, phi, PRED_FILL, PRED_LINE, 1.6)
        band(xa, ya, xs, tlo, thi, TRUE_FILL, TRUE_LINE, 1.2)
        band(xa, ya, xs, olo, ohi, OVER_FILL, OVER_FILL, 0.9)
        annotations.append(dict(x=0, y=1, xref=xa + " domain", yref=ya + " domain", text=ROW_EXPONENTS[r][c],
                                showarrow=False, xanchor="left", yanchor="bottom", yshift=-2,
                                font=dict(size=20, family=FONT)))
        if r == 0:
            text((cx0 + cx1) / 2 + 6, 523, "Error = " + SAMPLE_ERRORS[c], size=20)

for q in range(4):
    text((Q_BOXES[q][0] + Q_BOXES[q][1]) / 2, 492, QUANTILE_NAMES[q], size=25)

row_centers = [592, 766, 937, 1110]
for r in range(4):
    text(28, row_centers[r], ROW_LABELS[r] + "<br>Fluence (J/m<sup>2</sup>\u0394d)", size=20, angle=-90)

# bottom legend
rect(93, 1232, 203, 1269, width=2)
line(115, 1251, 148, 1251, color="black", width=4)
text(154, 1251, "true", xanchor="left")
rect(215, 1232, 367, 1269, width=2)
line(225, 1251, 258, 1251, color="#b5dde3", width=4)
text(268, 1251, "predicted", xanchor="left")

fig.update_layout(width=W, height=H, margin=dict(l=0, r=0, t=0, b=0, pad=0, autoexpand=False),
                  showlegend=False, paper_bgcolor="white", plot_bgcolor="rgba(0,0,0,0)",
                  font=dict(family=FONT, size=20, color="black"),
                  annotations=annotations, shapes=shapes, bargap=0, **axes_layout)
fig.write_html("out.html")
